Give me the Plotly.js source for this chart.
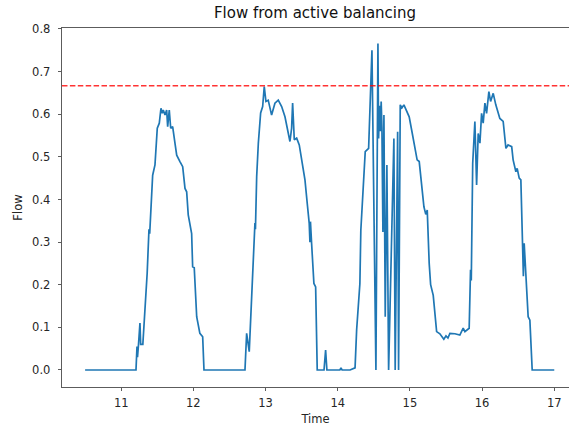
<!DOCTYPE html>
<html>
<head>
<meta charset="utf-8">
<script src="https://cdn.plot.ly/plotly-3.0.1.min.js"></script>
<style>
  html, body { margin: 0; padding: 0; background: #fff; }
  #chart { width: 569px; height: 430px; }
</style>
</head>
<body>
<div id="chart"></div>
<script>
// Time (x) and flow (y)
const time = [
  10.5, 11.205, 11.219, 11.226, 11.24, 11.26, 11.27, 11.30, 11.36, 11.385, 11.395,
  11.409, 11.436, 11.468, 11.50, 11.528, 11.551, 11.569, 11.583, 11.607, 11.63, 11.644,
  11.666, 11.686, 11.713, 11.745, 11.769, 11.814, 11.852, 11.884, 11.907, 11.929,
  11.976, 11.99, 12.012, 12.046, 12.064, 12.09, 12.129, 12.147,
  12.715, 12.738, 12.774, 12.807, 12.83, 12.853, 12.86, 12.877, 12.90, 12.932, 12.96,
  12.982, 13.005, 13.037, 13.084, 13.13, 13.176, 13.223, 13.269, 13.30, 13.338, 13.361,
  13.375, 13.398, 13.431, 13.467, 13.50, 13.546, 13.578, 13.605, 13.615, 13.622, 13.638,
  13.67, 13.694, 13.716,
  13.81, 13.832, 13.85, 14.03, 14.045, 14.06, 14.17, 14.24,
  14.262, 14.284, 14.307, 14.32, 14.345, 14.381, 14.428, 14.45, 14.474, 14.529, 14.557,
  14.566, 14.578, 14.589, 14.602, 14.612, 14.626, 14.64, 14.658, 14.681, 14.705, 14.778,
  14.796, 14.83, 14.843, 14.866,
  14.889, 14.917, 14.945, 14.99, 15.024, 15.07, 15.10, 15.129, 15.162, 15.194, 15.22,
  15.24, 15.267, 15.287, 15.323, 15.346, 15.37, 15.415, 15.443, 15.47, 15.50, 15.527,
  15.554, 15.623, 15.692, 15.738, 15.762, 15.785, 15.821, 15.84, 15.85, 15.87, 15.90,
  15.924, 15.946, 15.97, 15.993, 16.015, 16.039, 16.062, 16.094, 16.118, 16.154, 16.19,
  16.246, 16.292, 16.33, 16.36, 16.41, 16.43, 16.468, 16.486, 16.514, 16.537, 16.56,
  16.572, 16.583, 16.607, 16.638, 16.662, 16.694, 17.0
];
const flow = [
  0, 0, 0.055, 0.03, 0.06, 0.11, 0.06, 0.06, 0.227, 0.33, 0.32,
  0.364, 0.457, 0.481, 0.567, 0.579, 0.614, 0.602, 0.61, 0.598, 0.61, 0.571,
  0.61, 0.567, 0.571, 0.532, 0.504, 0.489, 0.477, 0.426, 0.418, 0.364,
  0.32, 0.242, 0.24, 0.125, 0.11, 0.086, 0.078, 0,
  0, 0.086, 0.043, 0.164, 0.235, 0.345, 0.33, 0.453, 0.532, 0.603, 0.618,
  0.665, 0.63, 0.633, 0.598, 0.626, 0.633, 0.618, 0.594, 0.567, 0.536, 0.567,
  0.626, 0.54, 0.544, 0.528, 0.497, 0.446, 0.39, 0.344, 0.30, 0.348, 0.297,
  0.203, 0.195, 0,
  0, 0.047, 0, 0, 0.005, 0, 0, 0.005,
  0.094, 0.156, 0.203, 0.328, 0.407, 0.512, 0.52, 0.615, 0.75, 0, 0.766,
  0.543, 0.62, 0.56, 0.63, 0.57, 0.324, 0.598, 0.125, 0.481, 0, 0.543,
  0, 0.559, 0, 0.622,
  0.615, 0.622, 0.61, 0.594, 0.563, 0.524, 0.493, 0.489, 0.43, 0.383, 0.365,
  0.375, 0.25, 0.2, 0.175, 0.14, 0.09, 0.085, 0.078, 0.072, 0.08, 0.075,
  0.086, 0.085, 0.082, 0.098, 0.09, 0.094, 0.098, 0.235, 0.21, 0.485, 0.583,
  0.434, 0.555, 0.532, 0.602, 0.579, 0.626, 0.602, 0.653, 0.63, 0.649, 0.622,
  0.59, 0.583, 0.52, 0.528, 0.524, 0.493, 0.465, 0.473, 0.45, 0.446, 0.305,
  0.22, 0.297, 0.219, 0.125, 0.117, 0, 0
];
const threshold = 0.6667;
const xTicks = [11, 12, 13, 14, 15, 16, 17];
const yTicks = [0.0, 0.1, 0.2, 0.3, 0.4, 0.5, 0.6, 0.7, 0.8];
const yTickText = ['0.0', '0.1', '0.2', '0.3', '0.4', '0.5', '0.6', '0.7', '0.8'];

const font = 'DejaVu Sans, sans-serif';
const data = [{
  x: time, y: flow, type: 'scatter', mode: 'lines',
  line: {color: '#1f77b4', width: 1.7},
  hoverinfo: 'skip', showlegend: false
}];

const layout = {
  width: 569, height: 430,
  margin: {l: 62, r: 0, t: 28, b: 43},
  paper_bgcolor: '#ffffff', plot_bgcolor: '#ffffff',
  showlegend: false,
  font: {family: font, size: 11.5, color: '#262626'},
  title: {
    text: 'Flow from active balancing',
    font: {family: font, size: 15, color: '#111'},
    x: 315 / 569, xref: 'container', xanchor: 'center',
    y: 1 - 13 / 430, yref: 'container', yanchor: 'middle'
  },
  xaxis: {
    range: [10.180, 17.204],
    tickvals: xTicks, ticktext: xTicks.map(String),
    ticks: 'outside', ticklen: 3.5, tickwidth: 0.8, tickcolor: '#333',
    ticklabelstandoff: 2,
    showgrid: false, zeroline: false,
    showline: true, linecolor: '#333', linewidth: 0.8, mirror: true,
    title: {text: 'Time', font: {family: font, size: 11.5, color: '#262626'}, standoff: 5},
    tickfont: {family: font, size: 11.5, color: '#262626'}
  },
  yaxis: {
    range: [-0.0399, 0.8023],
    tickvals: yTicks, ticktext: yTickText,
    ticks: 'outside', ticklen: 3.5, tickwidth: 0.8, tickcolor: '#333',
    ticklabelstandoff: 5,
    showgrid: false, zeroline: false,
    showline: true, linecolor: '#333', linewidth: 0.8,
    title: {text: 'Flow', font: {family: font, size: 11.5, color: '#262626'}, standoff: 6},
    tickfont: {family: font, size: 11.5, color: '#262626'}
  },
  shapes: [{
    type: 'line', xref: 'paper', x0: 0, x1: 1, yref: 'y', y0: threshold, y1: threshold,
    line: {color: 'rgba(255,0,0,0.8)', width: 1.6, dash: '5.5px,2.4px'}
  }]
};

Plotly.newPlot('chart', data, layout, {displayModeBar: false, staticPlot: true});
</script>
</body>
</html>
